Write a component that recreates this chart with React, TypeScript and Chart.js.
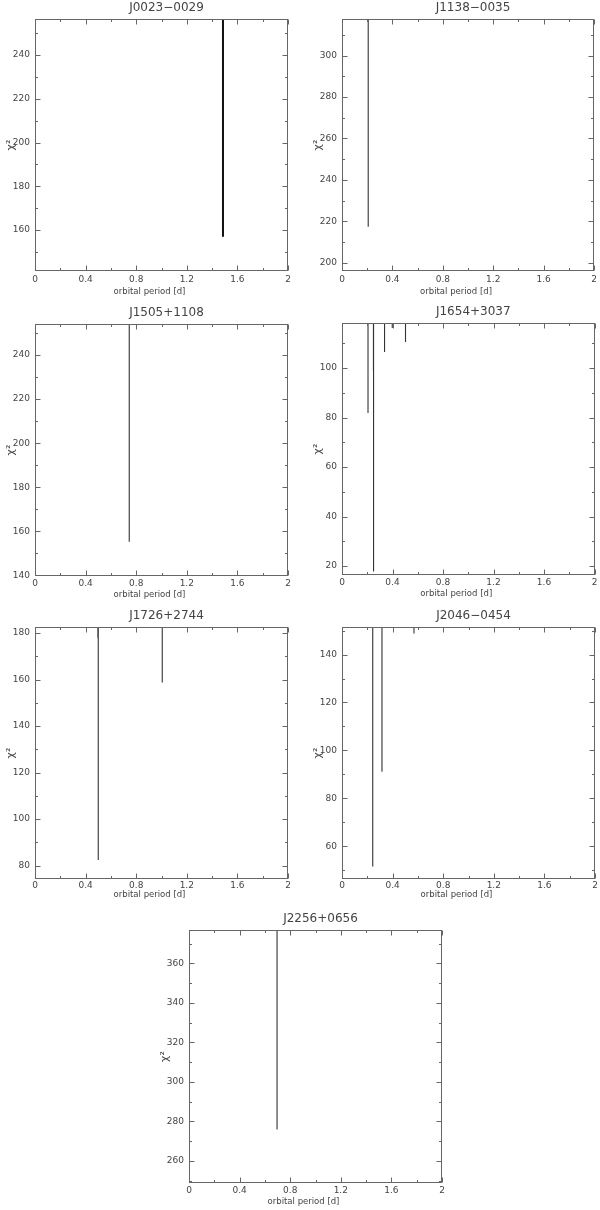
import React, { useEffect, useRef } from "react";
import { Chart, registerables } from "chart.js";

Chart.register(...registerables);

// ---- data ----
const panelTitles = ["J0023−0029", "J1138−0035", "J1505+1108", "J1654+3037", "J1726+2744", "J2046−0454", "J2256+0656"];
const xTickLabels = ["0", "0.4", "0.8", "1.2", "1.6", "2"];
const yAxisMin = [141.3, 196, 139.7, 16.4, 74.2, 46.3, 248.8];
const yAxisMax = [256.5, 317.7, 254.1, 118.2, 182.6, 151.5, 376.9];
const dipPeriods = [[1.486], [0.208], [0.745], [0.206, 0.249, 0.25, 0.337, 0.398, 0.503], [0.497, 0.5, 1.006], [0.243, 0.316, 0.569], [0.696]];
const dipChi2 = [[157], [217.4], [155.3], [81.8, 99, 17.8, 106.5, 116.2, 110.5], [178, 82.4, 158.7], [51.5, 91.1, 148.8], [275.9]];
const CHI2_OFF_DIP = 10000; // chi^2 away from the dips lies far above the plotted range

// ---- layout (page px) ----
type Box = { left: number; top: number; w: number; h: number; L: number; R: number; T: number; B: number; tk: number; xt: number };
const boxes: Box[] = [
  { left: 0, top: 0, w: 300, h: 300, L: 35, R: 288, T: 19, B: 271, tk: 8.5, xt: 21 },
  { left: 300, top: 0, w: 300, h: 300, L: 42, R: 295, T: 19, B: 271, tk: 8.5, xt: 21 },
  { left: 0, top: 300, w: 300, h: 300, L: 35, R: 288, T: 24, B: 276, tk: 8, xt: 19 },
  { left: 300, top: 300, w: 300, h: 300, L: 42, R: 295, T: 23, B: 275, tk: 8, xt: 19 },
  { left: 0, top: 600, w: 300, h: 310, L: 35, R: 288, T: 27, B: 279, tk: 7, xt: 16 },
  { left: 300, top: 600, w: 300, h: 310, L: 42, R: 295, T: 27, B: 279, tk: 7, xt: 16 },
  { left: 150, top: 900, w: 300, h: 310, L: 39, R: 292, T: 30, B: 283, tk: 8, xt: 19 },
];
const lineWidths = [2, 1.1, 1.1, 1.1, 1.1, 1.1, 1.1];
const lineColors = ["#111", "#333", "#333", "#333", "#333", "#333", "#333"];

const FONT = "'DejaVu Sans', 'Liberation Sans', sans-serif";
const TEXT = "#444";
const FRAME = "#666";

const framePlugin = (title: string, bx: Box) => ({
  id: "frame",
  afterDraw(chart: any) {
    const { ctx, chartArea: a } = chart;
    const xs = chart.scales.x;
    const ys = chart.scales.y;
    ctx.save();
    ctx.strokeStyle = FRAME;
    ctx.lineWidth = 1;
    const l = Math.round(a.left) + 0.5, r = Math.round(a.right) - 0.5;
    const t = Math.round(a.top) + 0.5, b = Math.round(a.bottom) - 0.5;
    ctx.strokeRect(l, t, r - l, b - t);
    ctx.beginPath();
    // x ticks every 0.2, major every 0.4
    for (let i = 0; i <= 10; i++) {
      const v = i * 0.2;
      const px = Math.round(xs.getPixelForValue(v)) + 0.5;
      const len = i % 2 === 0 ? 5 : 2.5;
      ctx.moveTo(px, b); ctx.lineTo(px, b - len);
      ctx.moveTo(px, t); ctx.lineTo(px, t + len);
    }
    // y ticks every 10, major every 20
    const start = Math.ceil(ys.min / 10) * 10;
    for (let v = start; v <= ys.max; v += 10) {
      const py = Math.round(ys.getPixelForValue(v)) + 0.5;
      const len = v % 20 === 0 ? 5 : 2.5;
      ctx.moveTo(l, py); ctx.lineTo(l + len, py);
      ctx.moveTo(r, py); ctx.lineTo(r - len, py);
    }
    ctx.stroke();

    // title
    ctx.fillStyle = TEXT;
    ctx.textAlign = "center";
    ctx.textBaseline = "middle";
    ctx.font = `12px ${FONT}`;
    ctx.fillText(title, (a.left + a.right) / 2 + 5, a.top - 11.5);
    // x axis title
    ctx.font = `8.5px ${FONT}`;
    ctx.fillText("orbital period [d]", (a.left + a.right) / 2 - 12, a.bottom + bx.xt);
    // y axis title
    ctx.translate(a.left - 24, (a.top + a.bottom) / 2);
    ctx.rotate(-Math.PI / 2);
    ctx.font = `11px ${FONT}`;
    ctx.fillText("χ²", 0, 0);
    ctx.restore();
  },
});

function Panel({ idx }: { idx: number }) {
  const ref = useRef<HTMLCanvasElement>(null);
  const bx = boxes[idx];
  useEffect(() => {
    const data: any[] = [];
    dipPeriods[idx].forEach((p, k) => {
      data.push({ x: p, y: dipChi2[idx][k] });
      data.push({ x: p, y: CHI2_OFF_DIP });
      data.push({ x: p, y: null });
    });
    const chart = new Chart(ref.current!, {
      type: "line",
      data: {
        datasets: [
          {
            data,
            borderColor: lineColors[idx],
            borderWidth: lineWidths[idx],
            pointRadius: 0,
            spanGaps: false,
            tension: 0,
          },
        ],
      },
      options: {
        animation: false,
        responsive: false,
        events: [],
        layout: { padding: { left: 0, right: bx.w - bx.R, top: bx.T, bottom: 0 } },
        plugins: { legend: { display: false }, tooltip: { enabled: false }, title: { display: false } },
        scales: {
          x: {
            type: "linear",
            min: 0,
            max: 2,
            grid: { display: false, drawTicks: false },
            border: { display: false },
            ticks: {
              stepSize: 0.4,
              includeBounds: false,
              padding: bx.tk - 5.4,
              color: TEXT,
              font: { family: FONT, size: 9 },
              maxRotation: 0,
              autoSkip: false,
              callback: (v: any) => {
                const i = Math.round(Number(v) / 0.4);
                return xTickLabels[i] ?? "";
              },
            },
            afterFit: (s: any) => { s.height = bx.h - bx.B; },
          },
          y: {
            type: "linear",
            min: yAxisMin[idx],
            max: yAxisMax[idx],
            grid: { display: false, drawTicks: false },
            border: { display: false },
            ticks: {
              stepSize: 20,
              includeBounds: false,
              padding: 5,
              color: TEXT,
              font: { family: FONT, size: 9 },
              autoSkip: false,
              callback: (v: any) => (Number(v) % 20 === 0 ? String(Math.round(Number(v))) : ""),
            },
            afterFit: (s: any) => { s.width = bx.L; },
          },
        },
      },
      plugins: [framePlugin(panelTitles[idx], bx)],
    });
    return () => chart.destroy();
  }, [idx]);
  return (
    <canvas
      ref={ref}
      width={bx.w}
      height={bx.h}
      style={{ position: "absolute", left: bx.left, top: bx.top, width: bx.w, height: bx.h }}
    />
  );
}

export default function App() {
  return (
    <div style={{ position: "absolute", left: 0, top: 0, width: 600, height: 1210, background: "#fff" }}>
      {boxes.map((_, i) => (
        <Panel key={i} idx={i} />
      ))}
    </div>
  );
}
